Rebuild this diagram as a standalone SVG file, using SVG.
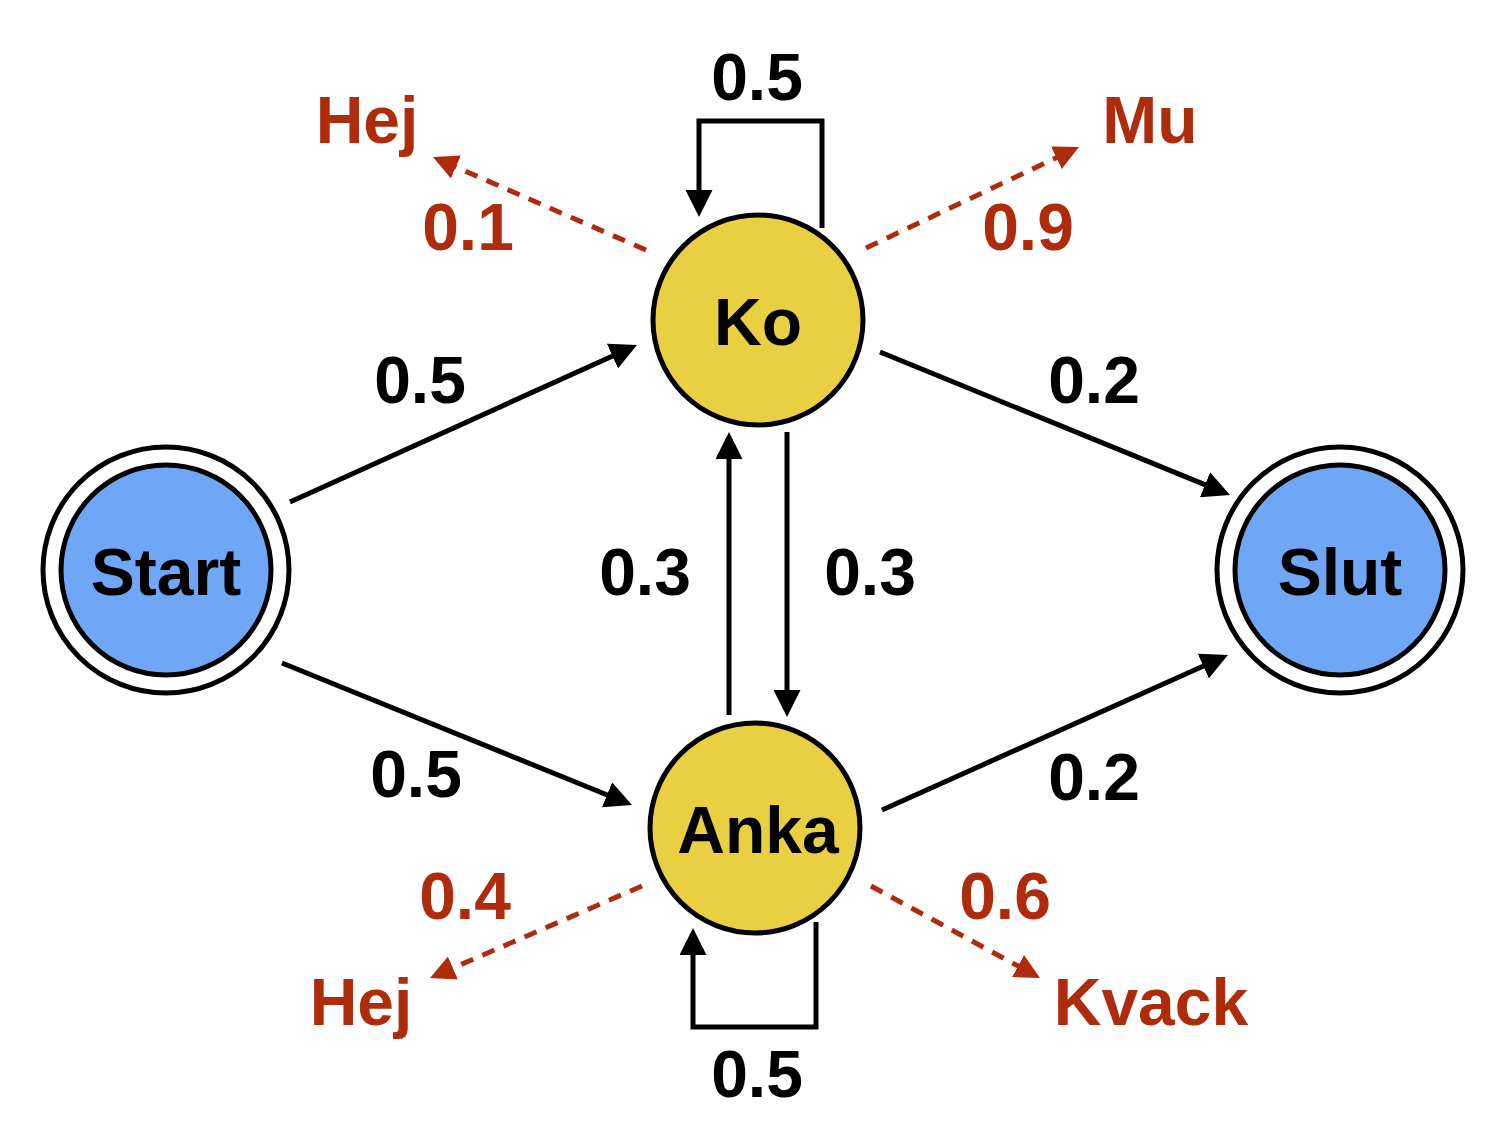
<svg xmlns="http://www.w3.org/2000/svg" width="1504" height="1142" viewBox="0 0 1504 1142">
<style>
.bg{fill:#ffffff}
.state{fill:#E9CF42;stroke:#000;stroke-width:5}
.term{fill:#70A6F6;stroke:#000;stroke-width:5}
.ring{fill:#fff;stroke:#000;stroke-width:5}
.lbl{font-family:"Liberation Sans",Arial,sans-serif;font-weight:bold;font-size:66px;text-anchor:middle;fill:#000}
.red{fill:#AE2C0C}
.edge{fill:none;stroke:#000;stroke-width:5}
.emit{fill:none;stroke:#AE2C0C;stroke-width:5;stroke-dasharray:13 10}
</style>
<defs>
<marker id="ah" markerUnits="userSpaceOnUse" markerWidth="27" markerHeight="27" refX="7" refY="13.5" orient="auto" viewBox="0 0 27 27">
<path d="M0,0 L27,13.5 L0,27 z" fill="#000"/>
</marker>
<marker id="ahr" markerUnits="userSpaceOnUse" markerWidth="25" markerHeight="25" refX="7" refY="12.5" orient="auto" viewBox="0 0 25 25">
<path d="M0,0 L25,12.5 L0,25 z" fill="#AE2C0C"/>
</marker>
</defs>
<rect class="bg" x="0" y="0" width="1504" height="1142"/>
<g id="connectors">
<path class="edge" d="M290,502 L618.8,353.2" marker-end="url(#ah)"/>
<path class="edge" d="M282,663 L613.5,797.5" marker-end="url(#ah)"/>
<path class="edge" d="M880,352 L1211.5,487.4" marker-end="url(#ah)"/>
<path class="edge" d="M882,810 L1209.7,663.2" marker-end="url(#ah)"/>
<path class="edge" d="M729,715 L729,452" marker-end="url(#ah)"/>
<path class="edge" d="M787,432 L787,697" marker-end="url(#ah)"/>
<path class="edge" d="M822,228 V121 H699 V197" marker-end="url(#ah)"/>
<path class="edge" d="M816,922 V1027 H693 V948" marker-end="url(#ah)"/>
<path class="emit" d="M646,250 L449.5,164.2" marker-end="url(#ahr)"/>
<path class="emit" d="M866,248 L1062.7,154.7" marker-end="url(#ahr)"/>
<path class="emit" d="M642,886 L446.5,970.8" marker-end="url(#ahr)"/>
<path class="emit" d="M871,886 L1024.2,969.4" marker-end="url(#ahr)"/>
</g>
<g id="edge-labels">
<text class="lbl" x="757" y="100">0.5</text>
<text class="lbl" x="420" y="403">0.5</text>
<text class="lbl" x="1094" y="403">0.2</text>
<text class="lbl" x="645" y="595">0.3</text>
<text class="lbl" x="870" y="595">0.3</text>
<text class="lbl" x="416" y="797">0.5</text>
<text class="lbl" x="1094" y="800">0.2</text>
<text class="lbl" x="757" y="1097">0.5</text>
<text class="lbl red" x="468" y="250">0.1</text>
<text class="lbl red" x="1028" y="250">0.9</text>
<text class="lbl red" x="465" y="919">0.4</text>
<text class="lbl red" x="1005" y="919">0.6</text>
</g>
<g id="node-start">
<circle class="ring" cx="166" cy="570" r="123"/>
<circle class="term" cx="166" cy="570" r="105"/>
<text class="lbl" x="166" y="595">Start</text>
</g>
<g id="node-slut">
<circle class="ring" cx="1340" cy="570" r="123"/>
<circle class="term" cx="1340" cy="570" r="105"/>
<text class="lbl" x="1340" y="595">Slut</text>
</g>
<g id="node-ko">
<circle class="state" cx="758" cy="320" r="105"/>
<text class="lbl" x="758" y="345">Ko</text>
</g>
<g id="node-anka">
<circle class="state" cx="755" cy="828" r="105"/>
<text class="lbl" x="758" y="853">Anka</text>
</g>
<g id="out-hej-top"><text class="lbl red" x="367" y="143">Hej</text></g>
<g id="out-mu"><text class="lbl red" x="1150" y="143">Mu</text></g>
<g id="out-hej-bottom"><text class="lbl red" x="361" y="1025">Hej</text></g>
<g id="out-kvack"><text class="lbl red" x="1151" y="1025">Kvack</text></g>
</svg>
